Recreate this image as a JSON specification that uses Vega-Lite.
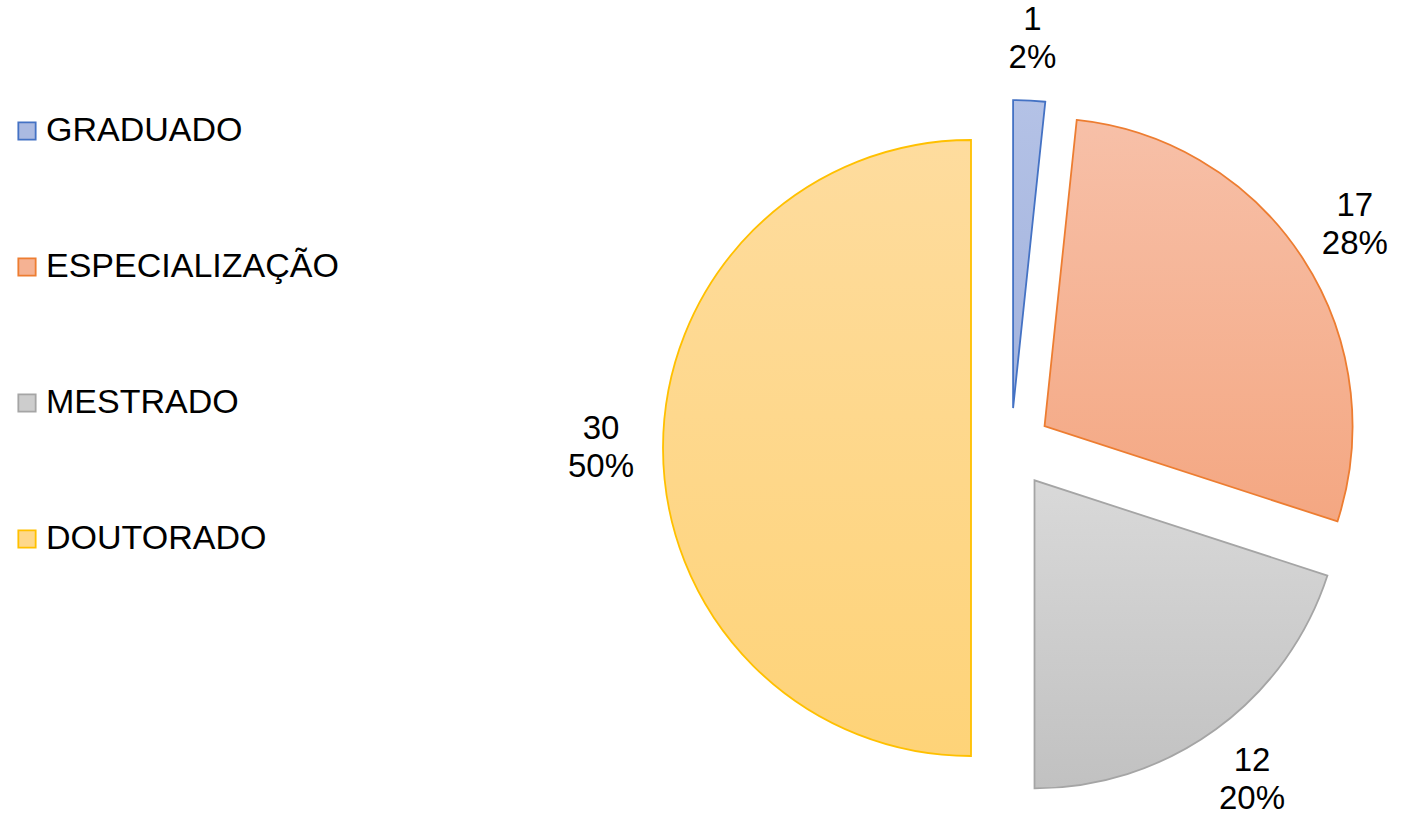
{
  "$schema": "https://vega.github.io/schema/vega-lite/v6.json",
  "width": 1401,
  "height": 820,
  "padding": 0,
  "autosize": {"type": "none"},
  "background": "white",
  "config": {"view": {"stroke": null}, "font": "Liberation Sans"},
  "data": {
    "values": [
      {"nivel": "GRADUADO", "n": 1},
      {"nivel": "ESPECIALIZAÇÃO", "n": 17},
      {"nivel": "MESTRADO", "n": 12},
      {"nivel": "DOUTORADO", "n": 30}
    ]
  },
  "transform": [
    {"window": [{"op": "sum", "field": "n", "as": "cum1"}], "frame": [null, 0]},
    {"joinaggregate": [{"op": "sum", "field": "n", "as": "total"}]},
    {"calculate": "(datum.cum1 - datum.n) / datum.total", "as": "f0"},
    {"calculate": "datum.cum1 / datum.total", "as": "f1"},
    {"calculate": "(datum.cum1 - datum.n / 2) / datum.total", "as": "fm"},
    {"calculate": "sin(2 * PI * datum.fm)", "as": "ex"},
    {"calculate": "-cos(2 * PI * datum.fm)", "as": "ey"},
    {"calculate": "datum.n + '\\n' + format(datum.n / datum.total, '.0%')", "as": "rotulo"}
  ],
  "encoding": {
    "x": {"field": "ex", "type": "quantitative", "stack": null, "axis": null, "scale": {"domain": [-1, 1], "range": [971, 1051]}},
    "y": {"field": "ey", "type": "quantitative", "stack": null, "axis": null, "scale": {"domain": [-1, 1], "range": [408, 488]}}
  },
  "layer": [
    {
      "mark": {"type": "arc", "radius": 308, "strokeWidth": 1.8},
      "encoding": {
        "theta": {"field": "f0", "type": "quantitative", "stack": null, "scale": {"domain": [0, 1], "range": [0, 6.283185307179586]}},
        "theta2": {"field": "f1"},
        "fill": {
          "field": "nivel", "type": "nominal",
          "condition": [
            {"test": "datum.nivel === 'GRADUADO'", "value": {"gradient": "linear", "x1": 0, "y1": 0, "x2": 0, "y2": 1, "stops": [{"offset": 0, "color": "#b4c2e6"}, {"offset": 1, "color": "#a2b2dd"}]}},
            {"test": "datum.nivel === 'ESPECIALIZAÇÃO'", "value": {"gradient": "linear", "x1": 0, "y1": 0, "x2": 0, "y2": 1, "stops": [{"offset": 0, "color": "#f7c0a8"}, {"offset": 1, "color": "#f4a782"}]}},
            {"test": "datum.nivel === 'MESTRADO'", "value": {"gradient": "linear", "x1": 0, "y1": 0, "x2": 0, "y2": 1, "stops": [{"offset": 0, "color": "#d9d9d9"}, {"offset": 1, "color": "#c1c1c1"}]}},
            {"test": "datum.nivel === 'DOUTORADO'", "value": {"gradient": "linear", "x1": 0, "y1": 0, "x2": 0, "y2": 1, "stops": [{"offset": 0, "color": "#fedc9e"}, {"offset": 1, "color": "#fed378"}]}}
          ],
          "scale": {"domain": ["GRADUADO", "ESPECIALIZAÇÃO", "MESTRADO", "DOUTORADO"], "range": ["#abbae1", "#f5b293", "#cdcdcd", "#fed88b"]},
          "legend": {
            "title": null, "orient": "none", "legendX": 10, "legendY": 114,
            "symbolType": "square", "symbolSize": 300, "symbolStrokeWidth": 1.8,
            "labelFontSize": 34, "labelFont": "Liberation Sans", "labelColor": "black",
            "labelOffset": 2, "rowPadding": 102, "labelLimit": 600
          }
        },
        "stroke": {
          "field": "nivel", "type": "nominal",
          "scale": {"domain": ["GRADUADO", "ESPECIALIZAÇÃO", "MESTRADO", "DOUTORADO"], "range": ["#4472c4", "#ed7d31", "#a5a5a5", "#ffc000"]},
          "legend": {
            "title": null, "orient": "none", "legendX": 10, "legendY": 114,
            "symbolType": "square", "symbolSize": 300, "symbolStrokeWidth": 1.8,
            "labelFontSize": 34, "labelFont": "Liberation Sans", "labelColor": "black",
            "labelOffset": 2, "rowPadding": 102, "labelLimit": 600
          }
        }
      }
    },
    {
      "mark": {"type": "text", "radius": 370, "fontSize": 33, "lineBreak": "\n", "lineHeight": 38, "dy": -19, "align": "center", "baseline": "middle", "color": "black"},
      "encoding": {
        "theta": {"field": "fm", "type": "quantitative", "stack": null},
        "text": {"field": "rotulo", "type": "nominal"}
      }
    }
  ]
}
